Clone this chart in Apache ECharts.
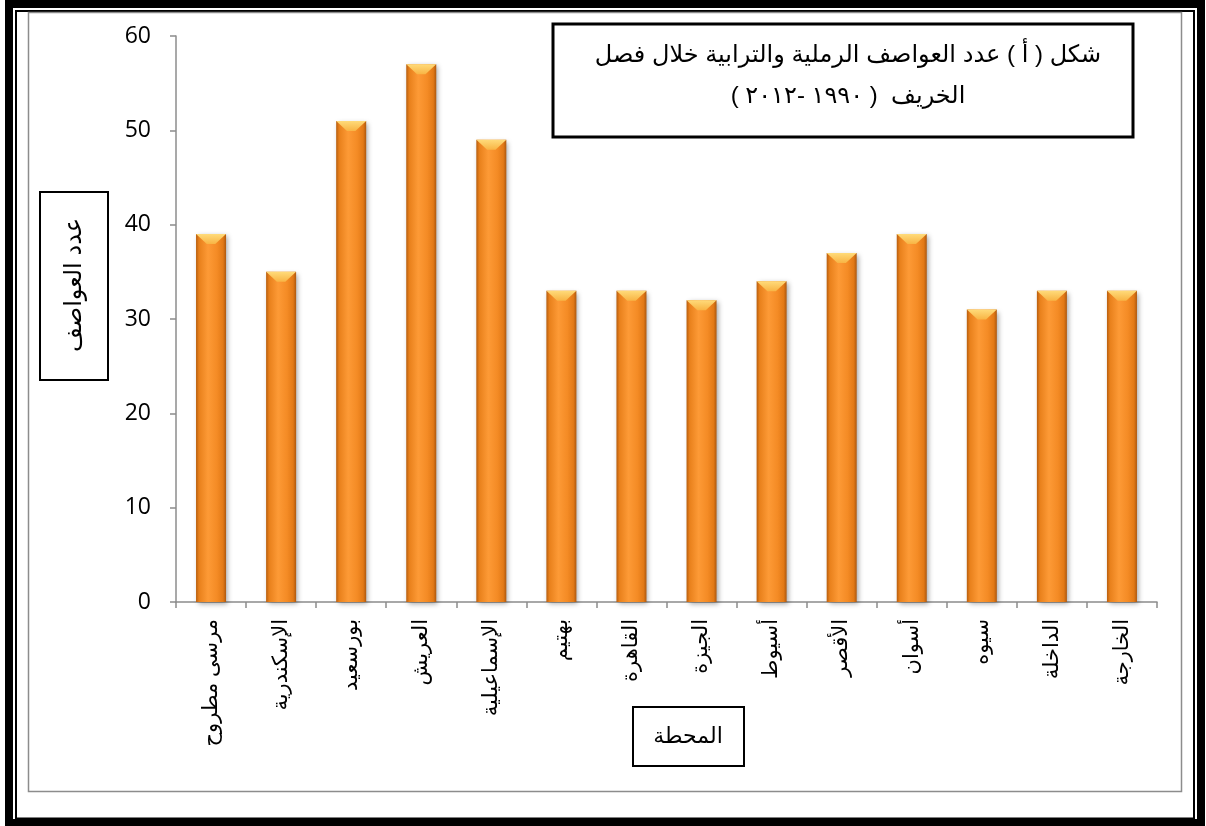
<!DOCTYPE html>
<html>
<head>
<meta charset="utf-8">
<script src="https://cdn.jsdelivr.net/npm/echarts@6/dist/echarts.min.js"></script>
<style>
  html, body { margin: 0; padding: 0; background: #fff; }
  #chart { width: 1206px; height: 826px; direction: rtl; }
</style>
</head>
<body>
<div id="chart"></div>
<script>
// Sand and dust storms per station, autumn 1990-2012
const stations = ['مرسى مطروح', 'الإسكندرية', 'بورسعيد', 'العريش', 'الإسماعيلية', 'بهتيم', 'القاهرة',
  'الجيزة', 'أسيوط', 'الأقصر', 'أسوان', 'سيوه', 'الداخلة', 'الخارجة'];
const stormCounts = [39, 35, 51, 57, 49, 33, 33, 32, 34, 37, 39, 31, 33, 33];
const titleLines = ['شكل ( أ ) عدد العواصف الرملية والترابية خلال فصل', 'الخريف  ( ١٩٩٠ -٢٠١٢ )'];
const yAxisTitle = 'عدد العواصف';
const xAxisTitle = 'المحطة';

const arabicFont = '"Liberation Sans", "DejaVu Sans", sans-serif';

const chart = echarts.init(document.getElementById('chart'), null, { renderer: 'canvas' });

chart.setOption({
  backgroundColor: '#fff',
  animation: false,
  grid: { left: 176, right: 49, top: 36, bottom: 224, containLabel: false },
  xAxis: {
    type: 'category',
    data: stations,
    boundaryGap: true,
    axisLine: { lineStyle: { color: '#8c8c8c', width: 1.5 } },
    axisTick: { show: true, length: 6, lineStyle: { color: '#8c8c8c', width: 1.5 } },
    axisLabel: {
      rotate: 90,
      interval: 0,
      margin: 17,
      color: '#000',
      fontSize: 21,
      fontFamily: arabicFont
    },
    splitLine: { show: false }
  },
  yAxis: {
    type: 'value',
    min: 0,
    max: 60,
    interval: 10,
    axisLine: { show: true, lineStyle: { color: '#8c8c8c', width: 1.5 } },
    axisTick: { show: true, length: 6, lineStyle: { color: '#8c8c8c', width: 1.5 } },
    axisLabel: { color: '#000', fontSize: 23, margin: 25, fontFamily: '"Open Sans", sans-serif' },
    splitLine: { show: false }
  },
  series: [
    {
      type: 'bar',
      data: stormCounts,
      barWidth: 30,
      itemStyle: {
        color: {
          type: 'linear', x: 0, y: 0, x2: 1, y2: 0,
          colorStops: [
            { offset: 0, color: '#b85e0e' },
            { offset: 0.1, color: '#e8801b' },
            { offset: 0.4, color: '#fd9a36' },
            { offset: 0.7, color: '#f48b25' },
            { offset: 0.9, color: '#e27916' },
            { offset: 1, color: '#ae580e' }
          ]
        },
        shadowBlur: 5,
        shadowColor: 'rgba(0,0,0,0.35)',
        shadowOffsetX: 2,
        shadowOffsetY: 2
      },
      z: 2
    },
    {
      // bevelled cap at the top of each bar
      type: 'pictorialBar',
      data: stormCounts,
      symbol: 'path://M0,0 L10,0 L6.4,3 L3.6,3 Z',
      symbolSize: [30, 10],
      symbolPosition: 'end',
      symbolOffset: [0, 0],
      itemStyle: {
        color: {
          type: 'linear', x: 0, y: 0, x2: 0, y2: 1,
          colorStops: [
            { offset: 0, color: '#ffdb7a' },
            { offset: 1, color: '#f8b444' }
          ]
        }
      },
      z: 3,
      silent: true
    }
  ],
  graphic: [
    // outer heavy frame
    { type: 'rect', shape: { x: 9, y: 4, width: 1192, height: 819 }, style: { fill: 'none', stroke: '#000', lineWidth: 8 }, silent: true },
    // thin inner frame
    { type: 'rect', shape: { x: 16, y: 11, width: 1178, height: 807.5 }, style: { fill: 'none', stroke: '#000', lineWidth: 2 }, silent: true },
    // chart area border
    { type: 'rect', shape: { x: 28.5, y: 12.5, width: 1153, height: 779 }, style: { fill: 'none', stroke: '#8c8c8c', lineWidth: 1.5 }, silent: true },
    // title box
    { type: 'rect', shape: { x: 553, y: 24, width: 580, height: 113 }, style: { fill: '#fff', stroke: '#000', lineWidth: 3 }, z: 10 },
    { type: 'text', x: 848, y: 55, style: { text: titleLines[0], font: '24px ' + arabicFont, fill: '#000', align: 'center', verticalAlign: 'middle' }, z: 11 },
    { type: 'text', x: 848, y: 96, style: { text: titleLines[1], font: '24px ' + arabicFont, fill: '#000', align: 'center', verticalAlign: 'middle' }, z: 11 },
    // y axis title box
    { type: 'rect', shape: { x: 40, y: 192, width: 68, height: 188 }, style: { fill: '#fff', stroke: '#000', lineWidth: 2 }, z: 10 },
    { type: 'text', x: 74, y: 285, rotation: Math.PI / 2, style: { text: yAxisTitle, font: '24px ' + arabicFont, fill: '#000', align: 'center', verticalAlign: 'middle' }, z: 11 },
    // x axis title box
    { type: 'rect', shape: { x: 633, y: 707, width: 111, height: 59 }, style: { fill: '#fff', stroke: '#000', lineWidth: 2 }, z: 10 },
    { type: 'text', x: 688, y: 737, style: { text: xAxisTitle, font: '22px ' + arabicFont, fill: '#000', align: 'center', verticalAlign: 'middle' }, z: 11 }
  ]
});
</script>
</body>
</html>
